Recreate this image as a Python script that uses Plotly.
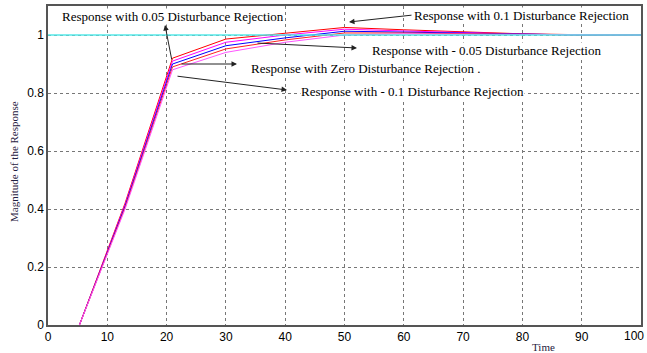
import plotly.graph_objects as go

# ---- data ----
time = [5.3, 13, 21, 30, 40, 50, 60, 70, 80, 90, 100]
resp_p010 = [0, 0.42, 0.92, 0.986, 1.006, 1.026, 1.018, 1.010, 1.004, 1.001, 1.0]
resp_p005 = [0, 0.415, 0.91, 0.975, 1.000, 1.020, 1.014, 1.008, 1.003, 1.000, 1.0]
resp_zero = [0, 0.41, 0.90, 0.963, 0.990, 1.013, 1.010, 1.006, 1.002, 1.000, 1.0]
resp_m005 = [0, 0.405, 0.89, 0.952, 0.983, 1.007, 1.007, 1.004, 1.001, 1.000, 1.0]
resp_m010 = [0, 0.40, 0.88, 0.940, 0.975, 1.000, 1.004, 1.003, 1.000, 1.000, 1.0]
ref_x = [0, 100]
ref_y = [1, 1]

x_ticks = [0, 10, 20, 30, 40, 50, 60, 70, 80, 90, 100]
x_ticklabels = ["0", "10", "20", "30", "40", "50", "60", "70", "80", "90", ""]
last_x_label = "100"
y_ticks = [0, 0.2, 0.4, 0.6, 0.8, 1]
y_ticklabels = ["0", "0.2", "0.4", "0.6", "0.8", "1"]

series = [
    (resp_p010, "#FF0000"),
    (resp_p005, "#FF00FF"),
    (resp_zero, "#0000FF"),
    (resp_m005, "#FF2020"),
    (resp_m010, "#FF55FF"),
]

fig = go.Figure()
for ys, col in series:
    fig.add_trace(go.Scatter(x=time, y=ys, mode="lines",
                             line=dict(color=col, width=1), showlegend=False))
fig.add_trace(go.Scatter(x=ref_x, y=ref_y, mode="lines",
                         line=dict(color="#55E8E8", width=1.5), showlegend=False))

# pixel -> data helpers for annotation placement
PL, PR, PT, PB = 48, 641, 6, 325

def px2x(px):
    return (px - PL) / (PR - PL) * 100

def py2y(py):
    return (PB - py) / (PB - PT) * 1.1

def px2paper(px):
    return (px - PL) / (PR - PL)

def py2paper(py):
    return (PB - py) / (PB - PT)

serif = "Liberation Serif"
texts = [
    ("Response with 0.05 Disturbance Rejection", 173, 16),
    ("Response with 0.1 Disturbance Rejection", 521, 15),
    ("Response with - 0.05 Disturbance Rejection", 486, 50),
    ("Response with Zero Disturbance Rejection .", 366, 68),
    ("Response with - 0.1 Disturbance Rejection", 412, 91),
]
for t, px, py in texts:
    fig.add_annotation(x=px2x(px), y=py2y(py), xref="x", yref="y", text=t,
                       showarrow=False, bgcolor="white",
                       font=dict(family=serif, size=13, color="black"),
                       xanchor="center", yanchor="middle", borderpad=0)

arrows = [  # head (x,y), tail (x,y) in pixels
    ((165, 25), (172, 61)),
    ((349, 22), (413, 15)),
    ((357, 48), (256, 43)),
    ((237, 64), (180, 64)),
    ((287, 90), (176, 76)),
]
for (hx, hy), (tx, ty) in arrows:
    fig.add_annotation(x=px2x(hx), y=py2y(hy), ax=px2x(tx), ay=py2y(ty),
                       xref="x", yref="y", axref="x", ayref="y", text="",
                       showarrow=True, arrowhead=2, arrowsize=1.1,
                       arrowwidth=1, arrowcolor="#222222")

# last x tick label kept inside the page (right-aligned at the edge)
fig.add_annotation(x=px2paper(646), y=py2paper(336), xref="paper", yref="paper",
                   text=last_x_label, showarrow=False, xanchor="right", yanchor="middle",
                   font=dict(family="Liberation Sans", size=12, color="black"))

fig.add_annotation(x=px2paper(543), y=py2paper(347), xref="paper", yref="paper",
                   text="Time", showarrow=False, xanchor="center", yanchor="middle",
                   font=dict(family=serif, size=11, color="#1f2040"))
fig.add_annotation(x=px2paper(14), y=py2paper(162), xref="paper", yref="paper",
                   text="Magnitude of the Response", showarrow=False, textangle=-90,
                   xanchor="center", yanchor="middle",
                   font=dict(family=serif, size=11, color="#1f2040"))

grid_col = "#777777"
fig.update_layout(
    width=647, height=353,
    margin=dict(l=PL, r=647 - PR, t=PT, b=353 - PB, autoexpand=False),
    paper_bgcolor="white", plot_bgcolor="white",
    font=dict(family="Liberation Sans, Arial, sans-serif", size=12, color="black"),
    xaxis=dict(range=[0, 100], tickvals=x_ticks, ticktext=x_ticklabels, showgrid=True,
               gridcolor=grid_col, griddash="dot", gridwidth=1, zeroline=False,
               showline=True, linecolor="#555555", linewidth=1.5, mirror=True, ticks="",
               tickfont=dict(size=12), ticklabeloverflow="allow", automargin=False),
    yaxis=dict(range=[0, 1.1], tickvals=y_ticks, ticktext=y_ticklabels, showgrid=True,
               gridcolor=grid_col, griddash="dot", gridwidth=1, zeroline=False,
               showline=True, linecolor="#555555", linewidth=1.5, mirror=True, ticks="",
               tickfont=dict(size=12), ticklabeloverflow="allow", automargin=False),
)

fig.write_html("out.html", config={"displayModeBar": False},
               post_script="document.body.style.margin='0';document.body.style.overflow='hidden';")
